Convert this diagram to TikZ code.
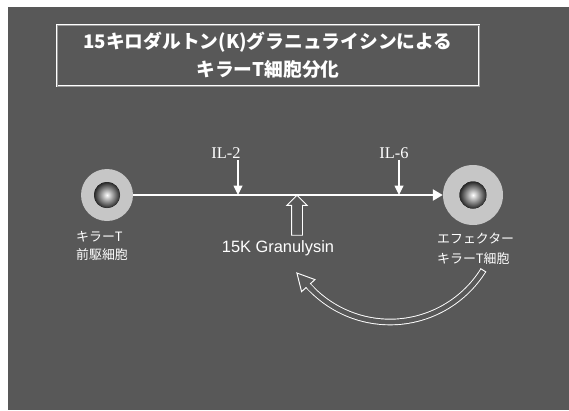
\documentclass[tikz,border=0pt]{standalone}
\usepackage{fontspec}
\setmainfont{Liberation Serif}
\setsansfont{Liberation Sans}
\newfontfamily\jpfont{Noto Sans CJK JP}
\usetikzlibrary{calc,arrows.meta,shapes.arrows}

\definecolor{slide}{RGB}{88,88,88}
\definecolor{ring}{RGB}{198,198,198}

\tikzset{
  cellring/.style={circle, fill=ring, inner sep=0pt},
  nucleus/.style={inner color=white, outer color=black!85},
  jlabel/.style={text=white, align=left, inner sep=0pt, font=\jpfont\fontsize{11}{15}\selectfont},
  illabel/.style={text=white, inner sep=1pt, font=\rmfamily\fontsize{14}{16}\selectfont},
  mainline/.style={white, line width=1.6pt, -{Triangle[length=8.5pt, width=9.5pt]}},
  cue/.style={white, line width=1pt, -{Triangle[length=8pt, width=7.5pt]}},
  loopband/.style={draw=white, line width=0.8pt, double=slide, double distance=4pt}
}

\begin{document}
\begin{tikzpicture}[x=0.03cm, y=-0.03cm]
  %%%%% START %%%%%
  \useasboundingbox (0,0) rectangle (569,410);
  \fill[slide] (8,7) rectangle (569,410);

  % heading
  \node (title) [draw=white, line width=0.6pt, double=black!40, double distance=0.5pt,
    minimum width=12.66cm, minimum height=1.83cm,
    text=white, align=center, font=\jpfont\bfseries\fontsize{16}{24}\selectfont] at (268,55.5)
    {15キロダルトン(K)グラニュライシンによる\\キラーT細胞分化};

  % the two cells
  \node (pre) [cellring, minimum size=1.56cm] at (107,195) {};
  \fill[nucleus] (pre.center) circle (13);
  \node (eff) [cellring, minimum size=1.8cm] at (473,195) {};
  \fill[nucleus] (eff.center) circle (13.5);

  \node (prelabel) [jlabel, anchor=north west] at (76,231) {キラーT\\前駆細胞};
  \node (efflabel) [jlabel, anchor=north west, font=\jpfont\fontsize{11}{17}\selectfont] at (437,233) {エフェクター\\キラーT細胞};

  \draw[mainline] (pre.east) -- (eff.west);

  % cytokines
  \coordinate (hit2) at (238,195);
  \coordinate (hit6) at (399,195);
  \node (il2) [illabel] at (226,153) {IL-2};
  \node (il6) [illabel] at (394,153) {IL-6};
  \draw[cue] (hit2 |- il2.south) -- (hit2);
  \draw[cue] (hit6 |- il6.south) -- (hit6);

  % granulysin push
  \node (push) [single arrow, draw=white, line width=0.8pt, shape border rotate=90,
    minimum height=1.2cm, inner sep=0.15cm, single arrow head extend=0.14cm] at (297,218) {};
  \node (gran) [text=white, font=\sffamily\fontsize{14}{16}\selectfont] at (278,248) {15K Granulysin};

  % feedback loop
  \coordinate (loopc) at (390,212);
  \coordinate (loopa) at ($(loopc)+(32:110)$);
  \coordinate (loopb) at ($(loopc)+(138:110)$);
  \coordinate (looptip) at ($(loopb)+(228:17)$);
  \draw[loopband] (loopa) arc[start angle=32, end angle=138, radius=110];
  \draw[white, line width=0.8pt] ($(loopc)+(32:106.6)$) -- ($(loopc)+(32:113.4)$);
  \filldraw[fill=slide, draw=white, line width=0.8pt, line join=miter]
    ($(loopb)+(138:9)$) -- (looptip) -- ($(loopb)+(318:9)$) -- cycle;
  \draw[slide, line width=4pt] ($(loopc)+(135:110)$) arc[start angle=135, end angle=140, radius=110];
  %%%%% END %%%%%
\end{tikzpicture}
\end{document}
